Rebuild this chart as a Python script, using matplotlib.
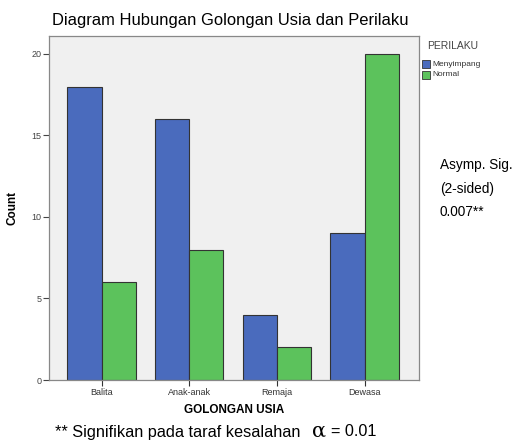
import matplotlib
matplotlib.use("Agg")
import matplotlib.pyplot as plt
import numpy as np
from matplotlib.patches import Rectangle

categories = ["Balita", "Anak-anak", "Remaja", "Dewasa"]
menyimpang = [18, 16, 4, 9]
normal = [6, 8, 2, 20]
yticks = [0, 5, 10, 15, 20]

blue = "#4A6BBD"
green = "#5CC25C"

plt.rcParams["font.family"] = ["Liberation Sans", "DejaVu Sans"]

fig = plt.figure(figsize=(5.29, 4.42), dpi=100)
ax = fig.add_axes([49/529, 1-380/442, (419-49)/529, (380-36)/442])
ax.set_facecolor("#F0F0F0")
x = np.arange(len(categories))
w = 0.39
ax.bar(x - w/2, menyimpang, w, color=blue, edgecolor="#333333", linewidth=0.8, label="Menyimpang")
ax.bar(x + w/2, normal, w, color=green, edgecolor="#333333", linewidth=0.8, label="Normal")
ax.set_xlim(-0.6, 3.62)
ax.set_ylim(0, 21.1)
ax.set_yticks(yticks)
ax.set_xticks(x)
ax.set_xticklabels(categories, fontsize=6.5, color="#333333")
ax.tick_params(axis="y", labelsize=6.5, colors="#444444", length=4, width=0.8, pad=1.5)
ax.tick_params(axis="x", length=4, width=0.8, colors="#333333", pad=1.5)
for s in ax.spines.values():
    s.set_color("#888888")
    s.set_linewidth(0.9)
ax.set_ylabel("Count", fontsize=8.5, fontweight="bold", labelpad=9)
ax.set_xlabel("GOLONGAN USIA", fontsize=8.5, fontweight="bold", labelpad=5)

fig.text(230/529, 1-20/442, "Diagram Hubungan Golongan Usia dan Perilaku", ha="center", va="center", fontsize=11.9)
fig.text(427/529, 1-46/442, "PERILAKU", ha="left", va="center", fontsize=7.5, color="#444444")
for i, (lab, c) in enumerate([("Menyimpang", blue), ("Normal", green)]):
    yy = 1-(64+11*i)/442
    fig.patches.append(Rectangle((422/529, yy-4/442), 8/529, 8/442, transform=fig.transFigure, facecolor=c, edgecolor="#333333", linewidth=0.6))
    fig.text(432/529, yy, lab, ha="left", va="center", fontsize=6, color="#333333")

for i, t in enumerate(["Asymp. Sig.", "(2-sided)", "0.007**"]):
    fig.text(440/529, 1-(165+23.5*i)/442, t, ha="left", va="center", fontsize=9.8)

fig.text(55/529, 1-432/442, "** Signifikan pada taraf kesalahan", ha="left", va="center", fontsize=11.7)
fig.text(319/529, 1-431/442, "α", ha="center", va="center", fontsize=15, family="DejaVu Serif")
fig.text(331/529, 1-432/442, "= 0.01", ha="left", va="center", fontsize=11.7)

fig.savefig("out.png", dpi=100)
